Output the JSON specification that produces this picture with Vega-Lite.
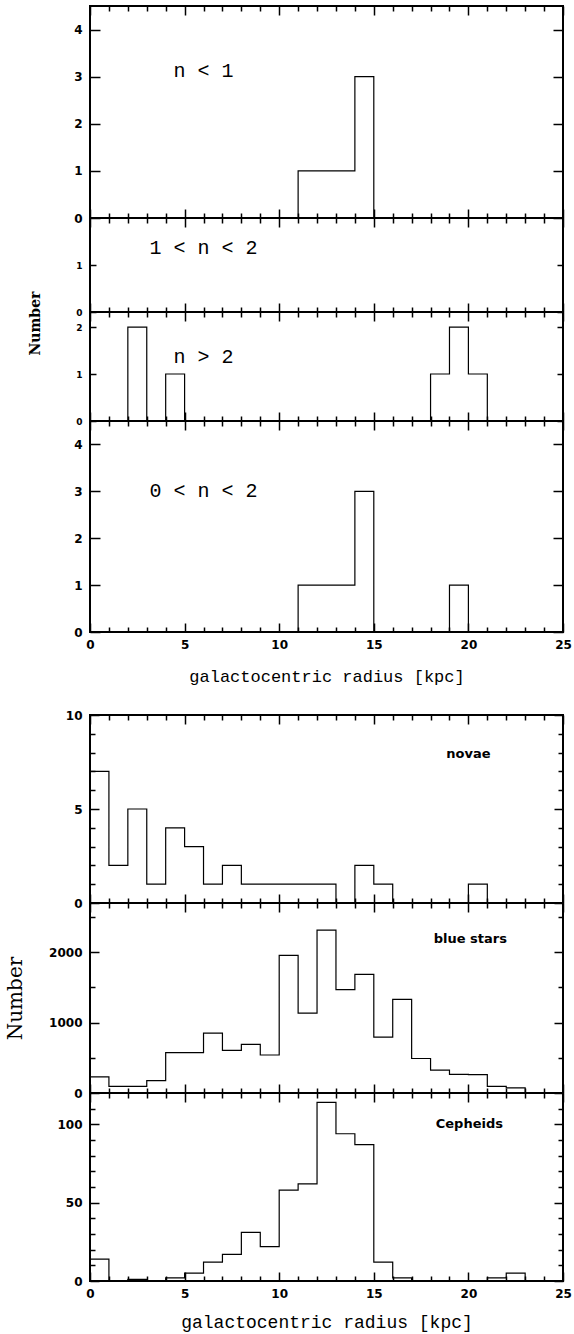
{
  "$schema": "https://vega.github.io/schema/vega-lite/v6.json",
  "background": "white",
  "padding": {"left": 3, "top": 4, "right": 2, "bottom": 2},
  "config": {
    "view": {"stroke": "black", "strokeWidth": 2},
    "axis": {"domain": false, "grid": false, "tickColor": "black", "tickWidth": 1.5, "labelColor": "black", "labelFont": "DejaVu Sans", "labelFontWeight": "bold", "labelOverlap": false, "labelFlush": false, "titleColor": "black", "titleFontWeight": "normal"},
    "line": {"color": "black", "strokeWidth": 1.2, "interpolate": "step-after"},
    "text": {"color": "black"}
  },
  "datasets": {
    "bins": [
      {"r": 0, "n_lt_1": 0, "n_1_2": 0, "n_gt_2": 0, "n_0_2": 0, "novae": 7, "blue": 230, "ceph": 14},
      {"r": 1, "n_lt_1": 0, "n_1_2": 0, "n_gt_2": 0, "n_0_2": 0, "novae": 2, "blue": 95, "ceph": 0},
      {"r": 2, "n_lt_1": 0, "n_1_2": 0, "n_gt_2": 2, "n_0_2": 0, "novae": 5, "blue": 95, "ceph": 1},
      {"r": 3, "n_lt_1": 0, "n_1_2": 0, "n_gt_2": 0, "n_0_2": 0, "novae": 1, "blue": 175, "ceph": 0},
      {"r": 4, "n_lt_1": 0, "n_1_2": 0, "n_gt_2": 1, "n_0_2": 0, "novae": 4, "blue": 575, "ceph": 2},
      {"r": 5, "n_lt_1": 0, "n_1_2": 0, "n_gt_2": 0, "n_0_2": 0, "novae": 3, "blue": 575, "ceph": 5},
      {"r": 6, "n_lt_1": 0, "n_1_2": 0, "n_gt_2": 0, "n_0_2": 0, "novae": 1, "blue": 850, "ceph": 12},
      {"r": 7, "n_lt_1": 0, "n_1_2": 0, "n_gt_2": 0, "n_0_2": 0, "novae": 2, "blue": 605, "ceph": 17},
      {"r": 8, "n_lt_1": 0, "n_1_2": 0, "n_gt_2": 0, "n_0_2": 0, "novae": 1, "blue": 690, "ceph": 31},
      {"r": 9, "n_lt_1": 0, "n_1_2": 0, "n_gt_2": 0, "n_0_2": 0, "novae": 1, "blue": 540, "ceph": 22},
      {"r": 10, "n_lt_1": 0, "n_1_2": 0, "n_gt_2": 0, "n_0_2": 0, "novae": 1, "blue": 1955, "ceph": 58},
      {"r": 11, "n_lt_1": 1, "n_1_2": 0, "n_gt_2": 0, "n_0_2": 1, "novae": 1, "blue": 1135, "ceph": 62},
      {"r": 12, "n_lt_1": 1, "n_1_2": 0, "n_gt_2": 0, "n_0_2": 1, "novae": 1, "blue": 2315, "ceph": 114},
      {"r": 13, "n_lt_1": 1, "n_1_2": 0, "n_gt_2": 0, "n_0_2": 1, "novae": 0, "blue": 1470, "ceph": 94},
      {"r": 14, "n_lt_1": 3, "n_1_2": 0, "n_gt_2": 0, "n_0_2": 3, "novae": 2, "blue": 1685, "ceph": 87},
      {"r": 15, "n_lt_1": 0, "n_1_2": 0, "n_gt_2": 0, "n_0_2": 0, "novae": 1, "blue": 795, "ceph": 12},
      {"r": 16, "n_lt_1": 0, "n_1_2": 0, "n_gt_2": 0, "n_0_2": 0, "novae": 0, "blue": 1330, "ceph": 2},
      {"r": 17, "n_lt_1": 0, "n_1_2": 0, "n_gt_2": 0, "n_0_2": 0, "novae": 0, "blue": 490, "ceph": 0},
      {"r": 18, "n_lt_1": 0, "n_1_2": 0, "n_gt_2": 1, "n_0_2": 0, "novae": 0, "blue": 325, "ceph": 0},
      {"r": 19, "n_lt_1": 0, "n_1_2": 0, "n_gt_2": 2, "n_0_2": 1, "novae": 0, "blue": 265, "ceph": 0},
      {"r": 20, "n_lt_1": 0, "n_1_2": 0, "n_gt_2": 1, "n_0_2": 0, "novae": 1, "blue": 262, "ceph": 0},
      {"r": 21, "n_lt_1": 0, "n_1_2": 0, "n_gt_2": 0, "n_0_2": 0, "novae": 0, "blue": 95, "ceph": 2},
      {"r": 22, "n_lt_1": 0, "n_1_2": 0, "n_gt_2": 0, "n_0_2": 0, "novae": 0, "blue": 72, "ceph": 5},
      {"r": 23, "n_lt_1": 0, "n_1_2": 0, "n_gt_2": 0, "n_0_2": 0, "novae": 0, "blue": 0, "ceph": 0},
      {"r": 24, "n_lt_1": 0, "n_1_2": 0, "n_gt_2": 0, "n_0_2": 0, "novae": 0, "blue": 0, "ceph": 0},
      {"r": 25, "n_lt_1": 0, "n_1_2": 0, "n_gt_2": 0, "n_0_2": 0, "novae": 0, "blue": 0, "ceph": 0}
    ]
  },
  "spacing": 23,
  "vconcat": [
    {
      "bounds": "flush",
      "spacing": 0,
      "vconcat": [
        {
          "width": 473, "height": 212,
          "layer": [
            {
              "data": {"name": "bins"},
              "mark": "line",
              "encoding": {
                "x": {"field": "r", "type": "quantitative", "scale": {"domain": [0, 25], "nice": false, "zero": false},
                  "axis": {"orient": "bottom", "values": [0,1,2,3,4,5,6,7,8,9,10,11,12,13,14,15,16,17,18,19,20,21,22,23,24,25], "tickSize": {"condition": {"test": "datum.value % 5 === 0", "value": -9}, "value": -5}, "labels": false, "title": null}},
                "y": {"field": "n_lt_1", "type": "quantitative", "scale": {"domain": [0, 4.5], "nice": false},
                  "axis": {"orient": "left", "values": [0,1,2,3,4], "tickSize": -10, "labelFontSize": 12, "labelPadding": 18, "title": null}}
              }
            },
            {
              "data": {"values": [{"label": "n < 1", "r": 6, "n": 3.12}]},
              "mark": {"type": "text", "font": "Liberation Mono", "fontSize": 20},
              "encoding": {
                "x": {"field": "r", "type": "quantitative", "scale": {"domain": [0, 25], "nice": false, "zero": false},
                  "axis": {"orient": "top", "values": [0,1,2,3,4,5,6,7,8,9,10,11,12,13,14,15,16,17,18,19,20,21,22,23,24,25], "tickSize": {"condition": {"test": "datum.value % 5 === 0", "value": -9}, "value": -5}, "labels": false, "title": null}},
                "y": {"field": "n", "type": "quantitative", "scale": {"domain": [0, 4.5], "nice": false},
                  "axis": {"orient": "right", "values": [0,1,2,3,4], "tickSize": -10, "labels": false, "title": null, "minExtent": 0}},
                "text": {"field": "label"}
              }
            }
          ],
          "resolve": {"axis": {"x": "independent", "y": "independent"}}
        },
        {
          "width": 473, "height": 94,
          "layer": [
            {
              "data": {"name": "bins"},
              "mark": "line",
              "encoding": {
                "x": {"field": "r", "type": "quantitative", "scale": {"domain": [0, 25], "nice": false, "zero": false},
                  "axis": {"orient": "bottom", "values": [0,1,2,3,4,5,6,7,8,9,10,11,12,13,14,15,16,17,18,19,20,21,22,23,24,25], "tickSize": {"condition": {"test": "datum.value % 5 === 0", "value": -9}, "value": -5}, "labels": false, "title": null}},
                "y": {"field": "n_1_2", "type": "quantitative", "scale": {"domain": [0, 2], "nice": false},
                  "axis": {"orient": "left", "values": [0,1], "tickSize": -6, "labelFontSize": 9, "labelPadding": 14,
                    "title": "Number", "titleFont": "DejaVu Serif", "titleFontWeight": "bold", "titleFontSize": 14, "titleX": -55, "titleY": 105, "titleAngle": -90, "titleAlign": "center", "titleBaseline": "middle"}}
              }
            },
            {
              "data": {"values": [{"label": "1 < n < 2", "r": 6, "n": 1.37}]},
              "mark": {"type": "text", "font": "Liberation Mono", "fontSize": 20},
              "encoding": {
                "x": {"field": "r", "type": "quantitative", "scale": {"domain": [0, 25], "nice": false, "zero": false},
                  "axis": {"orient": "top", "values": [0,1,2,3,4,5,6,7,8,9,10,11,12,13,14,15,16,17,18,19,20,21,22,23,24,25], "tickSize": {"condition": {"test": "datum.value % 5 === 0", "value": -9}, "value": -5}, "labels": false, "title": null}},
                "y": {"field": "n", "type": "quantitative", "scale": {"domain": [0, 2], "nice": false},
                  "axis": {"orient": "right", "values": [0,1], "tickSize": -6, "labels": false, "title": null, "minExtent": 0}},
                "text": {"field": "label"}
              }
            }
          ],
          "resolve": {"axis": {"x": "independent", "y": "independent"}}
        },
        {
          "width": 473, "height": 109,
          "layer": [
            {
              "data": {"name": "bins"},
              "mark": "line",
              "encoding": {
                "x": {"field": "r", "type": "quantitative", "scale": {"domain": [0, 25], "nice": false, "zero": false},
                  "axis": {"orient": "bottom", "values": [0,1,2,3,4,5,6,7,8,9,10,11,12,13,14,15,16,17,18,19,20,21,22,23,24,25], "tickSize": {"condition": {"test": "datum.value % 5 === 0", "value": -9}, "value": -5}, "labels": false, "title": null}},
                "y": {"field": "n_gt_2", "type": "quantitative", "scale": {"domain": [0, 2.32], "nice": false},
                  "axis": {"orient": "left", "values": [0,1,2], "tickSize": -6, "labelFontSize": 9, "labelPadding": 14, "title": null}}
              }
            },
            {
              "data": {"values": [{"label": "n > 2", "r": 6, "n": 1.36}]},
              "mark": {"type": "text", "font": "Liberation Mono", "fontSize": 20},
              "encoding": {
                "x": {"field": "r", "type": "quantitative", "scale": {"domain": [0, 25], "nice": false, "zero": false},
                  "axis": {"orient": "top", "values": [0,1,2,3,4,5,6,7,8,9,10,11,12,13,14,15,16,17,18,19,20,21,22,23,24,25], "tickSize": {"condition": {"test": "datum.value % 5 === 0", "value": -9}, "value": -5}, "labels": false, "title": null}},
                "y": {"field": "n", "type": "quantitative", "scale": {"domain": [0, 2.32], "nice": false},
                  "axis": {"orient": "right", "values": [0,1,2], "tickSize": -6, "labels": false, "title": null, "minExtent": 0}},
                "text": {"field": "label"}
              }
            }
          ],
          "resolve": {"axis": {"x": "independent", "y": "independent"}}
        },
        {
          "width": 473, "height": 211,
          "layer": [
            {
              "data": {"name": "bins"},
              "mark": "line",
              "encoding": {
                "x": {"field": "r", "type": "quantitative", "scale": {"domain": [0, 25], "nice": false, "zero": false},
                  "axis": {"orient": "bottom", "values": [0,1,2,3,4,5,6,7,8,9,10,11,12,13,14,15,16,17,18,19,20,21,22,23,24,25], "tickSize": {"condition": {"test": "datum.value % 5 === 0", "value": -9}, "value": -5},
                    "labelExpr": "datum.value % 5 === 0 ? datum.label : ''", "labelFontSize": 12, "labelPadding": 16,
                    "title": "galactocentric radius [kpc]", "titleFont": "Liberation Mono", "titleFontSize": 17, "titlePadding": 14}},
                "y": {"field": "n_0_2", "type": "quantitative", "scale": {"domain": [0, 4.5], "nice": false},
                  "axis": {"orient": "left", "values": [0,1,2,3,4], "tickSize": -10, "labelFontSize": 12, "labelPadding": 18, "title": null}}
              }
            },
            {
              "data": {"values": [{"label": "0 < n < 2", "r": 6, "n": 3.0}]},
              "mark": {"type": "text", "font": "Liberation Mono", "fontSize": 20},
              "encoding": {
                "x": {"field": "r", "type": "quantitative", "scale": {"domain": [0, 25], "nice": false, "zero": false},
                  "axis": {"orient": "top", "values": [0,1,2,3,4,5,6,7,8,9,10,11,12,13,14,15,16,17,18,19,20,21,22,23,24,25], "tickSize": {"condition": {"test": "datum.value % 5 === 0", "value": -9}, "value": -5}, "labels": false, "title": null}},
                "y": {"field": "n", "type": "quantitative", "scale": {"domain": [0, 4.5], "nice": false},
                  "axis": {"orient": "right", "values": [0,1,2,3,4], "tickSize": -10, "labels": false, "title": null, "minExtent": 0}},
                "text": {"field": "label"}
              }
            }
          ],
          "resolve": {"axis": {"x": "independent", "y": "independent"}}
        }
      ]
    },
    {
      "bounds": "flush",
      "spacing": 0,
      "vconcat": [
        {
          "width": 473, "height": 188,
          "layer": [
            {
              "data": {"name": "bins"},
              "mark": "line",
              "encoding": {
                "x": {"field": "r", "type": "quantitative", "scale": {"domain": [0, 25], "nice": false, "zero": false},
                  "axis": {"orient": "bottom", "values": [0,1,2,3,4,5,6,7,8,9,10,11,12,13,14,15,16,17,18,19,20,21,22,23,24,25], "tickSize": {"condition": {"test": "datum.value % 5 === 0", "value": -9}, "value": -5}, "labels": false, "title": null}},
                "y": {"field": "novae", "type": "quantitative", "scale": {"domain": [0, 10], "nice": false},
                  "axis": {"orient": "left", "values": [0,1,2,3,4,5,6,7,8,9,10], "tickSize": {"condition": {"test": "datum.value % 5 === 0", "value": -9}, "value": -5},
                    "labelExpr": "datum.value % 5 === 0 ? datum.label : ''", "labelFontSize": 12, "labelPadding": 17, "title": null}}
              }
            },
            {
              "data": {"values": [{"label": "novae", "r": 20, "n": 7.9}]},
              "mark": {"type": "text", "font": "DejaVu Sans", "fontWeight": "bold", "fontSize": 13},
              "encoding": {
                "x": {"field": "r", "type": "quantitative", "scale": {"domain": [0, 25], "nice": false, "zero": false},
                  "axis": {"orient": "top", "values": [0,1,2,3,4,5,6,7,8,9,10,11,12,13,14,15,16,17,18,19,20,21,22,23,24,25], "tickSize": {"condition": {"test": "datum.value % 5 === 0", "value": -9}, "value": -5}, "labels": false, "title": null}},
                "y": {"field": "n", "type": "quantitative", "scale": {"domain": [0, 10], "nice": false},
                  "axis": {"orient": "right", "values": [0,1,2,3,4,5,6,7,8,9,10], "tickSize": {"condition": {"test": "datum.value % 5 === 0", "value": -9}, "value": -5}, "labels": false, "title": null, "minExtent": 0}},
                "text": {"field": "label"}
              }
            }
          ],
          "resolve": {"axis": {"x": "independent", "y": "independent"}}
        },
        {
          "width": 473, "height": 190,
          "layer": [
            {
              "data": {"name": "bins"},
              "mark": "line",
              "encoding": {
                "x": {"field": "r", "type": "quantitative", "scale": {"domain": [0, 25], "nice": false, "zero": false},
                  "axis": {"orient": "bottom", "values": [0,1,2,3,4,5,6,7,8,9,10,11,12,13,14,15,16,17,18,19,20,21,22,23,24,25], "tickSize": {"condition": {"test": "datum.value % 5 === 0", "value": -9}, "value": -5}, "labels": false, "title": null}},
                "y": {"field": "blue", "type": "quantitative", "scale": {"domain": [0, 2700], "nice": false},
                  "axis": {"orient": "left", "values": [0,500,1000,1500,2000,2500], "tickSize": {"condition": {"test": "datum.value % 1000 === 0", "value": -9}, "value": -5},
                    "labelExpr": "datum.value % 1000 === 0 ? datum.label : ''", "format": "d", "labelFontSize": 12, "labelPadding": 17,
                    "title": "Number", "titleFont": "DejaVu Serif", "titleFontSize": 20, "titleX": -75, "titleY": 95, "titleAngle": -90, "titleAlign": "center", "titleBaseline": "middle"}}
              }
            },
            {
              "data": {"values": [{"label": "blue stars", "r": 20.1, "n": 2190}]},
              "mark": {"type": "text", "font": "DejaVu Sans", "fontWeight": "bold", "fontSize": 13},
              "encoding": {
                "x": {"field": "r", "type": "quantitative", "scale": {"domain": [0, 25], "nice": false, "zero": false},
                  "axis": {"orient": "top", "values": [0,1,2,3,4,5,6,7,8,9,10,11,12,13,14,15,16,17,18,19,20,21,22,23,24,25], "tickSize": {"condition": {"test": "datum.value % 5 === 0", "value": -9}, "value": -5}, "labels": false, "title": null}},
                "y": {"field": "n", "type": "quantitative", "scale": {"domain": [0, 2700], "nice": false},
                  "axis": {"orient": "right", "values": [0,500,1000,1500,2000,2500], "tickSize": {"condition": {"test": "datum.value % 1000 === 0", "value": -9}, "value": -5}, "labels": false, "title": null, "minExtent": 0}},
                "text": {"field": "label"}
              }
            }
          ],
          "resolve": {"axis": {"x": "independent", "y": "independent"}}
        },
        {
          "width": 473, "height": 188,
          "layer": [
            {
              "data": {"name": "bins"},
              "mark": "line",
              "encoding": {
                "x": {"field": "r", "type": "quantitative", "scale": {"domain": [0, 25], "nice": false, "zero": false},
                  "axis": {"orient": "bottom", "values": [0,1,2,3,4,5,6,7,8,9,10,11,12,13,14,15,16,17,18,19,20,21,22,23,24,25], "tickSize": {"condition": {"test": "datum.value % 5 === 0", "value": -9}, "value": -5},
                    "labelExpr": "datum.value % 5 === 0 ? datum.label : ''", "labelFontSize": 12, "labelPadding": 16,
                    "title": "galactocentric radius [kpc]", "titleFont": "Liberation Mono", "titleFontSize": 18, "titlePadding": 10}},
                "y": {"field": "ceph", "type": "quantitative", "scale": {"domain": [0, 120], "nice": false},
                  "axis": {"orient": "left", "values": [0,10,20,30,40,50,60,70,80,90,100,110], "tickSize": {"condition": {"test": "datum.value % 50 === 0", "value": -9}, "value": -5},
                    "labelExpr": "datum.value % 50 === 0 ? datum.label : ''", "labelFontSize": 12, "labelPadding": 17, "title": null}}
              }
            },
            {
              "data": {"values": [{"label": "Cepheids", "r": 20.05, "n": 100}]},
              "mark": {"type": "text", "font": "DejaVu Sans", "fontWeight": "bold", "fontSize": 13},
              "encoding": {
                "x": {"field": "r", "type": "quantitative", "scale": {"domain": [0, 25], "nice": false, "zero": false},
                  "axis": {"orient": "top", "values": [0,1,2,3,4,5,6,7,8,9,10,11,12,13,14,15,16,17,18,19,20,21,22,23,24,25], "tickSize": {"condition": {"test": "datum.value % 5 === 0", "value": -9}, "value": -5}, "labels": false, "title": null}},
                "y": {"field": "n", "type": "quantitative", "scale": {"domain": [0, 120], "nice": false},
                  "axis": {"orient": "right", "values": [0,10,20,30,40,50,60,70,80,90,100,110], "tickSize": {"condition": {"test": "datum.value % 50 === 0", "value": -9}, "value": -5}, "labels": false, "title": null, "minExtent": 0}},
                "text": {"field": "label"}
              }
            }
          ],
          "resolve": {"axis": {"x": "independent", "y": "independent"}}
        }
      ]
    }
  ]
}
